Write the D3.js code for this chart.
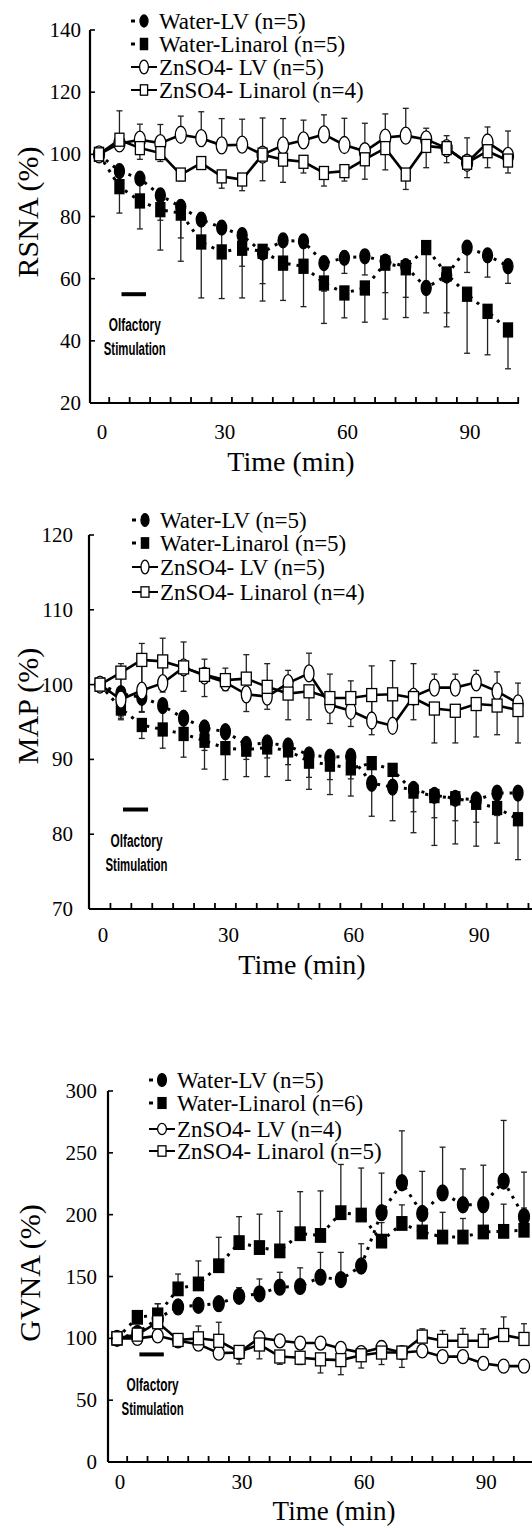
<!DOCTYPE html>
<html>
<head>
<meta charset="utf-8">
<script src="https://cdn.jsdelivr.net/npm/d3@7"></script>
<style>
	body { margin: 0; background: #fff; }
	svg { display: block; }
</style>
</head>
<body>
<svg id="plot" width="532" height="1528"></svg>
<script>

// time points (min) and axis labels, shared by the three panels
const times = [0, 5, 10, 15, 20, 25, 30, 35, 40, 45, 50, 55, 60, 65, 70, 75, 80, 85, 90, 95, 100];
const timeLabels = [0, 30, 60, 90];
const stimWindow = [5.5, 11.5];

// ---- RSNA ----
const rsnaTicks = [20, 40, 60, 80, 100, 120, 140];
const rsnaLegend = ["Water-LV (n=5)", "Water-Linarol (n=5)", "ZnSO4- LV (n=5)", "ZnSO4- Linarol (n=4)"];
const rsnaWaterLV = [100, 94.6, 92.2, 86.8, 83.1, 79, 76.4, 74, 68.4, 72.3, 72, 65, 66.7, 67.2, 65.5, 64, 57, 61, 70, 67.5, 64];
const rsnaWaterLVErr = [0, -5, -6, -8, -10, -9, -9, -10, -10, -8, -10, -9, -5, -6, -10, -10, -8, -12, -8, -7, -5.5];
const rsnaWaterLin = [100, 89.6, 85, 82.2, 81.1, 71.8, 68.6, 69.8, 68.8, 65, 64, 58.6, 55.4, 57, 65, 63.5, 70, 61.5, 55, 49.5, 43.5];
const rsnaWaterLinErr = [0, -8.5, -9, -13, -15.5, -18, -15, -16, -16, -12, -13, -13, -8, -11, -18, -16, -13, -17, -19, -14, -12.5];
const rsnaZnLV = [100, 103.5, 104.7, 103.6, 106.3, 105.2, 102.9, 103.1, 99.9, 102.9, 104.5, 106.4, 103, 101, 105.4, 106, 104.8, 102, 97.3, 103.8, 99.5];
const rsnaZnLVErr = [0, 10.5, 5, 6, 6, 8.5, 8.6, 8.2, 11.8, 8.6, 6.5, 6.3, 8.6, 9, 7.6, 8.8, 3.6, 4, 8, 5, 8];
const rsnaZnLin = [100, 104.7, 102, 100.4, 93.5, 97.2, 92.9, 91.9, 99.9, 98.3, 97.6, 94, 94.6, 98.4, 102, 93.5, 102.7, 102, 97.3, 101, 98];
const rsnaZnLinErr = [0, -3, -3.6, -2.7, -2, -1.6, -3.8, -3.6, -8.4, -7.3, -3.6, -4.2, -3.2, -6.4, -7, -4.8, -7, -4.7, -4.8, -5.3, -4];

// ---- MAP ----
const mapTicks = [70, 80, 90, 100, 110, 120];
const mapLegend = ["Water-LV (n=5)", "Water-Linarol (n=5)", "ZnSO4- LV (n=5)", "ZnSO4- Linarol (n=4)"];
const mapWaterLV = [100, 98.8, 98.3, 97.2, 95.5, 94.2, 93.7, 92, 92.2, 91.8, 90.6, 90.3, 90.4, 86.8, 86.3, 86, 85.2, 84.8, 84.6, 85.5, 85.5];
const mapWaterLVErr = [0, -3, -2, -3, -2.5, -3, -2.5, -2, -2, -2.5, -3, -3, -3, -4.4, -4.5, -3, -3, -3, -3, -3, -3];
const mapWaterLin = [100, 96.8, 94.6, 94, 93.4, 92.5, 91.5, 91.3, 91.6, 91.2, 89.7, 89.3, 88.8, 89.5, 88.6, 85.7, 85.1, 84.8, 84.2, 83.5, 82];
const mapWaterLinErr = [0, -1.3, -1.8, -2.5, -3.1, -3.8, -4.2, -3.6, -3.9, -4, -3.7, -4, -3.7, -3, -3, -5.5, -6.6, -6.1, -5.8, -4.7, -5.4];
const mapZnLV = [100, 98, 99.2, 100.2, 102.3, 101.2, 100.3, 98.7, 98.4, 100.2, 101.5, 97.3, 96.5, 95.2, 94.5, 98.4, 99.6, 99.6, 100.3, 99.1, 97.5];
const mapZnLVErr = [0, 4.8, 6.3, 6, 3.4, 2.2, 1.9, 5.3, 4.4, 1.7, 2.7, 4.1, 4, 7.3, 8.7, 4.4, 1.8, 1.8, 1.6, 2.6, 2.7];
const mapZnLin = [100, 101.6, 103.3, 103.1, 102.3, 101.3, 100.6, 100.8, 99.7, 98.8, 99.1, 98.2, 98.2, 98.6, 98.7, 98.2, 96.8, 96.5, 97.4, 97.2, 96.6];
const mapZnLinErr = [0, -6.3, -6.9, -4.1, -3.2, -2.9, -1.4, -4.4, -3, -3.5, -3.8, -3.4, -3.8, -5.3, -4.7, -2.9, -4.6, -4.3, -4.4, -3.9, -4.4];

// ---- GVNA ----
const gvnaTicks = [0, 50, 100, 150, 200, 250, 300];
const gvnaLegend = ["Water-LV (n=5)", "Water-Linarol (n=6)", "ZnSO4- LV (n=4)", "ZnSO4- Linarol (n=5)"];
const gvnaWaterLV = [100, 104, 116, 125.4, 126.7, 128, 134, 136, 141.4, 142, 149.5, 147.5, 158.5, 201.6, 225.8, 201, 217.6, 208, 208, 227.2, 198.4];
const gvnaWaterLVErr = [0, 0, 0, 0, 0, 5, 7, 12, 12, 15, 20, 22, 18, 32, 42, 34, 37, 29, 32, 49, 36];
const gvnaWaterLin = [100, 117, 119, 140, 144, 158.7, 177.4, 173.4, 170.7, 184.6, 183.2, 201.6, 199.7, 178.6, 192.9, 186, 181.9, 181.9, 186, 186.5, 187.4];
const gvnaWaterLinErr = [0, 0, 9, 12, 18.6, 23, 21, 27, 32, 34, 36, 39, 38, 15, 15, 15, 20, 15, 18, 22, 18];
const gvnaZnLV = [100, 100, 102, 98, 95.3, 88, 88.5, 100.3, 98, 96.2, 96.2, 91.8, 88.5, 92.6, 88.5, 89.8, 85.2, 85.2, 79.7, 77.5, 77.5];
const gvnaZnLVErr = [0, -3, 5, 4, -5, -4, 4, 4, 4, 3, 3, 3, -3, -3, 3, -3, -3, -3, -3, -3, -3];
const gvnaZnLin = [100, 103, 113, 98.7, 100, 98, 89, 95, 85.3, 84.3, 83, 82.4, 86.3, 88.5, 88.5, 101.4, 98, 98, 98, 102.7, 99.5];
const gvnaZnLinErr = [0, -4, 15, -6, 10, 15, -9.7, -11.6, -6.3, -5.5, -11, -11.8, -10.3, -9.7, -12, 6.3, 8.3, 10, 9.7, 14.6, 12.3];


class TimeCoursePanel {

	constructor(svg, cfg) {
		this.g = svg.append('g');
		const g = this.g;

		const x = d3.scaleLinear().domain([0, 100]).range(cfg.xRange);
		const y = d3.scaleLinear().domain(cfg.yDomain).range(cfg.yRange);
		const serif = '"Liberation Serif", "Times New Roman", serif';

		// series: filled symbols with dotted lines, open symbols with solid lines
		const styles = [
			{shape: 'circle', filled: true},
			{shape: 'square', filled: true},
			{shape: 'circle', filled: false},
			{shape: 'square', filled: false}
		];
		const series = cfg.series.map((s, i) => ({
			points: times.map((t, j) => ({t: t, v: s.values[j], e: s.errs[j]})),
			style: styles[i],
			label: cfg.legend[i]
		}));

		const line = d3.line().x(d => x(d.t)).y(d => y(d.v));

		series.forEach(s => {
			g.append('path')
				.datum(s.points)
				.attr('d', line)
				.attr('fill', 'none')
				.attr('stroke', '#000')
				.attr('stroke-width', s.style.filled ? 3 : 2.6)
				.attr('stroke-dasharray', s.style.filled ? '3,6' : null);
		});

		// error bars (signed: + up, - down)
		series.forEach(s => {
			const bars = g.append('g');
			s.points.filter(d => d.e != 0).forEach(d => {
				bars.append('line')
					.attr('x1', x(d.t)).attr('x2', x(d.t))
					.attr('y1', y(d.v)).attr('y2', y(d.v + d.e))
					.attr('stroke', '#222').attr('stroke-width', 1.3);
				bars.append('line')
					.attr('x1', x(d.t) - 3).attr('x2', x(d.t) + 3)
					.attr('y1', y(d.v + d.e)).attr('y2', y(d.v + d.e))
					.attr('stroke', '#222').attr('stroke-width', 1.3);
			});
		});

		const drawMarker = (parent, style, cx, cy, k) => {
			const m = cfg.marker;
			if (style.shape == 'circle') {
				const r = style.filled ? m.fc : m.oc;
				parent.append('ellipse')
					.attr('cx', cx).attr('cy', cy)
					.attr('rx', r[0] * k).attr('ry', r[1] * k)
					.attr('fill', style.filled ? '#000' : '#fff')
					.attr('stroke', '#000').attr('stroke-width', 1.3);
			} else {
				const r = style.filled ? m.fs : m.os;
				parent.append('rect')
					.attr('x', cx - r[0] * k / 2).attr('y', cy - r[1] * k / 2)
					.attr('width', r[0] * k).attr('height', r[1] * k)
					.attr('fill', style.filled ? '#000' : '#fff')
					.attr('stroke', '#000').attr('stroke-width', 1.3);
			}
		};

		series.forEach(s => {
			const mg = g.append('g');
			s.points.forEach(d => drawMarker(mg, s.style, x(d.t), y(d.v), 1));
		});

		// axes
		const axisY = cfg.axisX;
		const yBottom = y(cfg.yDomain[0]);
		g.append('line')
			.attr('x1', axisY).attr('x2', axisY)
			.attr('y1', y(cfg.yDomain[1])).attr('y2', yBottom)
			.attr('stroke', '#000').attr('stroke-width', 2.2);
		g.append('line')
			.attr('x1', axisY).attr('x2', cfg.axisEnd)
			.attr('y1', yBottom).attr('y2', yBottom)
			.attr('stroke', '#000').attr('stroke-width', 2.2);

		g.selectAll('.ytick')
			.data(cfg.yTicks)
			.enter()
			.append('line')
				.attr('x1', axisY).attr('x2', axisY + 5)
				.attr('y1', d => y(d)).attr('y2', d => y(d))
				.attr('stroke', '#000').attr('stroke-width', 1.6);

		g.selectAll('.ylab')
			.data(cfg.yTicks)
			.enter()
			.append('text')
				.text(d => d)
				.attr('x', axisY - cfg.yLabelGap)
				.attr('y', d => y(d))
				.attr('text-anchor', 'end')
				.attr('dominant-baseline', 'central')
				.style('font-family', serif)
				.style('font-size', '21px');

		// minor ticks sit between the sampling points
		g.selectAll('.xtick')
			.data(d3.range(2.5, 105, 5))
			.enter()
			.append('line')
				.attr('x1', d => x(d)).attr('x2', d => x(d))
				.attr('y1', yBottom).attr('y2', yBottom - 6)
				.attr('stroke', '#000').attr('stroke-width', 1.8);

		g.selectAll('.xlab')
			.data(timeLabels)
			.enter()
			.append('text')
				.text(d => d)
				.attr('x', d => x(d) + 3)
				.attr('y', cfg.xLabelY)
				.attr('text-anchor', 'middle')
				.attr('dominant-baseline', 'central')
				.style('font-family', serif)
				.style('font-size', '21px');

		g.append('text')
			.text('Time (min)')
			.attr('x', cfg.timeTitle[0]).attr('y', cfg.timeTitle[1])
			.attr('text-anchor', 'middle')
			.attr('dominant-baseline', 'central')
			.style('font-family', serif)
			.style('font-size', cfg.timeSize);

		g.append('text')
			.text(cfg.title)
			.attr('transform', 'translate(' + cfg.titlePos[0] + ',' + cfg.titlePos[1] + ') rotate(-90)')
			.attr('text-anchor', 'middle')
			.attr('dominant-baseline', 'central')
			.style('font-family', serif)
			.style('font-size', '30px');

		// olfactory stimulation bar
		const sy = y(cfg.stimLevel);
		const sx = (x(stimWindow[0]) + x(stimWindow[1])) / 2;
		g.append('line')
			.attr('x1', x(stimWindow[0])).attr('x2', x(stimWindow[1]))
			.attr('y1', sy).attr('y2', sy)
			.attr('stroke', '#000').attr('stroke-width', 4);
		[['Olfactory', 31, 52], ['Stimulation', 55, 62]].forEach(r => {
			g.append('text')
				.text(r[0])
				.attr('x', sx + 1 - r[2] / 2).attr('y', sy + r[1])
				.attr('textLength', r[2])
				.attr('lengthAdjust', 'spacingAndGlyphs')
				.attr('dominant-baseline', 'central')
				.style('font-family', '"Liberation Sans Narrow", "Liberation Sans", Arial, sans-serif')
				.style('font-weight', 'bold')
				.style('font-size', '18px');
		});

		// legend
		const lg = g.append('g');
		series.forEach((s, i) => {
			const ly = cfg.legendRows[i];
			const mx = cfg.legendX;
			if (s.style.filled) {
				lg.append('line')
					.attr('x1', mx - 13).attr('x2', mx - 9)
					.attr('y1', ly).attr('y2', ly)
					.attr('stroke', '#000').attr('stroke-width', 3);
			} else {
				lg.append('line')
					.attr('x1', mx - 13).attr('x2', mx + 13)
					.attr('y1', ly).attr('y2', ly)
					.attr('stroke', '#000').attr('stroke-width', 2);
			}
			drawMarker(lg, s.style, mx, ly, 0.8);
			lg.append('text')
				.text(s.label)
				.attr('x', mx + 15).attr('y', ly)
				.attr('dominant-baseline', 'central')
				.style('font-family', serif)
				.style('font-size', '23px');
		});
	}
}

function whenDocumentLoaded(action) {
	if (document.readyState === "loading") {
		document.addEventListener("DOMContentLoaded", action);
	} else {
		action();
	}
}

whenDocumentLoaded(() => {
	const svg = d3.select('#plot');

	new TimeCoursePanel(svg, {
		title: 'RSNA (%)',
		yDomain: [20, 140], yRange: [403, 30], xRange: [99, 508],
		yTicks: rsnaTicks, axisX: 90, axisEnd: 519, yLabelGap: 9,
		xLabelY: 432, timeTitle: [291, 461], timeSize: '28px', titlePos: [27, 212],
		stimLevel: 55,
		legend: rsnaLegend, legendX: 144, legendRows: [21, 44, 67, 90],
		marker: {fc: [5, 7.5], fs: [9, 14], oc: [5.5, 8.5], os: [9, 13]},
		series: [
			{values: rsnaWaterLV, errs: rsnaWaterLVErr},
			{values: rsnaWaterLin, errs: rsnaWaterLinErr},
			{values: rsnaZnLV, errs: rsnaZnLVErr},
			{values: rsnaZnLin, errs: rsnaZnLinErr}
		]
	});

	new TimeCoursePanel(svg, {
		title: 'MAP (%)',
		yDomain: [70, 120], yRange: [909, 535], xRange: [100, 518],
		yTicks: mapTicks, axisX: 89, axisEnd: 532, yLabelGap: 16,
		xLabelY: 935, timeTitle: [302, 964], timeSize: '28px', titlePos: [27, 706],
		stimLevel: 83.3,
		legend: mapLegend, legendX: 145, legendRows: [520, 543, 567, 592],
		marker: {fc: [5, 8], fs: [9, 13], oc: [5, 8.5], os: [10, 13]},
		series: [
			{values: mapWaterLV, errs: mapWaterLVErr},
			{values: mapWaterLin, errs: mapWaterLinErr},
			{values: mapZnLV, errs: mapZnLVErr},
			{values: mapZnLin, errs: mapZnLinErr}
		]
	});

	new TimeCoursePanel(svg, {
		title: 'GVNA (%)',
		yDomain: [0, 300], yRange: [1462, 1091], xRange: [117, 524],
		yTicks: gvnaTicks, axisX: 108, axisEnd: 532, yLabelGap: 11,
		xLabelY: 1482, timeTitle: [334, 1511], timeSize: '27px', titlePos: [29, 1273],
		stimLevel: 87,
		legend: gvnaLegend, legendX: 162, legendRows: [1080, 1103, 1129, 1151],
		marker: {fc: [5.5, 8], fs: [10, 13.5], oc: [5.5, 7], os: [10, 13]},
		series: [
			{values: gvnaWaterLV, errs: gvnaWaterLVErr},
			{values: gvnaWaterLin, errs: gvnaWaterLinErr},
			{values: gvnaZnLV, errs: gvnaZnLVErr},
			{values: gvnaZnLin, errs: gvnaZnLinErr}
		]
	});
});
</script>
</body>
</html>
